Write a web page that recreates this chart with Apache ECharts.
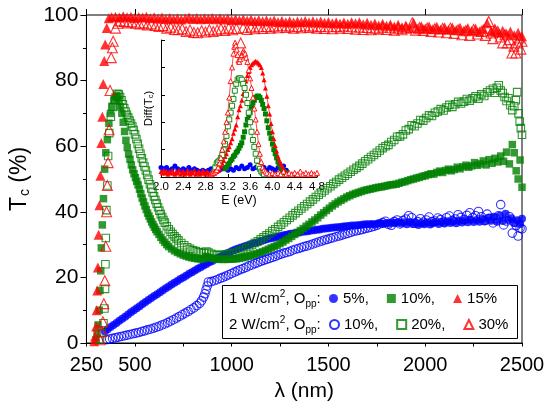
<!DOCTYPE html>
<html>
<head>
<meta charset="utf-8">
<script src="https://cdn.jsdelivr.net/npm/echarts@6/dist/echarts.min.js"></script>
<style>
  html, body { margin: 0; padding: 0; background: #fff; }
  #main { width: 550px; height: 411px; }
</style>
</head>
<body>
<div id="main"></div>
<script>
// main plot: [wavelength nm, Tc %]
const tc1W5 = [[345,3.5],[360,4.2],[375,4.9],[390,5.5],[405,6.1],[420,6.8],[435,7.4],[450,8.0],[465,8.7],[480,9.4],[495,10.0],[510,10.6],[525,11.2],[540,11.9],[555,12.5],[570,13.1],[585,13.7],[600,14.3],[615,14.9],[630,15.5],[645,16.1],[660,16.7],[675,17.2],[690,17.8],[705,18.4],[720,18.9],[735,19.5],[750,20.0],[765,20.5],[780,21.1],[795,21.6],[810,22.1],[825,22.6],[840,23.1],[855,23.6],[870,24.1],[885,24.6],[900,25.0],[915,25.5],[930,26.0],[945,26.4],[960,26.9],[975,27.3],[990,27.7],[1005,28.1],[1020,28.5],[1035,28.8],[1050,29.1],[1065,29.4],[1080,29.7],[1095,30.0],[1110,30.3],[1125,30.6],[1140,30.8],[1155,31.1],[1170,31.4],[1185,31.7],[1200,31.9],[1215,32.1],[1230,32.3],[1245,32.5],[1260,32.7],[1275,32.9],[1290,33.1],[1305,33.3],[1320,33.4],[1335,33.6],[1350,33.7],[1365,33.9],[1380,34.0],[1395,34.1],[1410,34.3],[1425,34.4],[1440,34.5],[1455,34.6],[1470,34.8],[1485,34.9],[1500,35.0],[1515,35.1],[1530,35.2],[1545,35.3],[1560,35.4],[1575,35.5],[1590,35.6],[1605,35.7],[1620,35.8],[1635,35.8],[1650,35.9],[1665,36.0],[1680,36.1],[1695,36.2],[1710,36.2],[1725,36.3],[1740,36.1],[1755,36.4],[1770,36.5],[1785,36.3],[1800,36.6],[1815,36.4],[1830,36.8],[1845,36.5],[1860,36.9],[1875,36.4],[1890,36.8],[1905,36.2],[1920,36.9],[1935,36.3],[1950,36.7],[1965,36.0],[1980,36.6],[1995,36.2],[2010,36.8],[2025,36.1],[2040,36.5],[2055,36.9],[2070,36.3],[2085,37.0],[2100,36.4],[2115,37.1],[2130,36.6],[2145,37.2],[2160,36.5],[2175,37.3],[2190,36.7],[2205,37.4],[2220,36.8],[2235,37.6],[2250,36.9],[2265,37.5],[2280,37.0],[2295,37.8],[2310,37.1],[2325,38.2],[2340,37.3],[2355,38.5],[2370,37.0],[2385,38.8],[2400,37.2],[2415,39.4],[2430,37.5],[2445,38.0],[2460,36.6],[2475,37.4],[2490,36.3],[2500,37.9]];

const tc1W10 = [[300,1],[305,3],[310,5.5],[316,10],[320,16],[324,22],[327,29],[332,36],[338,44],[344,53],[350,58],[358,62],[366,67],[374,70],[382,72],[392,74],[398,75],[405,75.5],[412,75.0],[419,73.8],[426,72.0],[433,70.0],[440,67.3],[447,64.5],[454,61.8],[461,59.6],[468,57.6],[475,56.0],[482,54.3],[489,52.8],[496,51.6],[503,50.4],[510,49.3],[517,48.2],[524,46.9],[531,45.5],[538,44.2],[545,43.0],[552,41.8],[559,40.7],[566,39.6],[573,38.7],[580,37.8],[587,36.9],[594,36.1],[601,35.3],[608,34.6],[615,33.9],[625,33.1],[635,32.2],[645,31.4],[655,30.7],[665,30.0],[675,29.4],[690,28.7],[705,28.1],[720,27.6],[735,27.2],[750,26.8],[765,26.5],[780,26.2],[795,26.0],[810,25.8],[825,25.7],[840,25.6],[855,25.7],[865,26.4],[875,26.2],[890,26.0],[905,25.8],[920,25.6],[935,25.5],[950,25.5],[965,25.5],[980,25.5],[995,25.6],[1010,25.6],[1025,25.7],[1040,25.8],[1055,26.0],[1070,26.2],[1085,26.4],[1100,26.6],[1115,26.9],[1130,27.2],[1145,27.5],[1160,27.8],[1175,28.2],[1190,28.6],[1205,29.0],[1220,29.4],[1235,29.8],[1250,30.3],[1265,30.8],[1280,31.4],[1295,31.9],[1310,32.5],[1325,33.1],[1340,33.7],[1355,34.3],[1370,34.9],[1385,35.6],[1400,36.2],[1415,36.9],[1430,37.5],[1445,38.2],[1460,39.0],[1475,39.7],[1490,40.4],[1505,41.1],[1520,41.8],[1535,42.4],[1550,43.0],[1565,43.5],[1580,44.0],[1595,44.5],[1610,44.9],[1625,45.3],[1640,45.6],[1655,45.9],[1670,46.2],[1685,46.5],[1700,46.7],[1715,46.9],[1730,47.1],[1745,47.3],[1760,47.5],[1775,47.6],[1790,47.8],[1805,48.0],[1820,48.2],[1835,48.3],[1850,48.4],[1865,48.7],[1880,49.0],[1895,49.2],[1910,49.5],[1925,49.8],[1940,50.0],[1955,50.3],[1970,50.5],[1985,50.8],[2000,51.0],[2015,51.3],[2030,51.6],[2045,51.5],[2060,52.0],[2075,52.4],[2090,52.0],[2105,52.6],[2120,53.0],[2135,52.5],[2150,52.9],[2165,53.6],[2180,53.1],[2195,53.7],[2210,54.2],[2225,53.6],[2240,54.0],[2255,55.0],[2270,54.2],[2285,54.6],[2300,55.5],[2315,54.3],[2330,55.9],[2345,54.8],[2360,56.3],[2375,55.2],[2390,57.0],[2405,55.4],[2420,58.2],[2435,54.6],[2450,60.5],[2460,58.0],[2470,52.5],[2480,50.0],[2490,55.8],[2500,47.5]];

const tc1W15 = [[290,0.5],[295,2],[300,5],[303,10],[306,16],[309,23],[313,33],[317,42],[322,51],[327,61],[332,69],[337,79],[342,86],[347,91],[355,96],[365,99],[380,99.3],[400,99.5],[420,99.2],[440,99.6],[460,99.3],[480,99.5],[500,99.1],[520,99.4],[540,99.2],[560,99.5],[580,99.0],[600,99.3],[620,98.9],[640,99.2],[660,98.8],[680,99.1],[700,98.7],[720,99.0],[740,98.6],[760,98.9],[780,99.2],[800,98.8],[820,99.1],[840,98.7],[860,99.0],[880,98.8],[900,99.1],[920,98.7],[940,99.0],[960,98.6],[980,98.9],[1000,98.5],[1020,98.8],[1040,98.4],[1060,98.7],[1080,98.3],[1100,98.6],[1120,98.2],[1140,98.5],[1160,98.1],[1180,98.4],[1200,98.0],[1220,98.3],[1240,97.9],[1260,98.2],[1280,97.8],[1300,98.1],[1320,97.7],[1340,98.0],[1360,97.9],[1380,98.2],[1400,97.8],[1420,98.1],[1440,97.7],[1460,98.0],[1480,97.6],[1500,97.9],[1520,97.5],[1540,97.8],[1560,97.4],[1580,97.7],[1600,97.3],[1620,97.8],[1640,97.5],[1660,97.8],[1680,97.2],[1700,97.6],[1720,97.0],[1740,97.4],[1760,96.8],[1780,97.3],[1800,96.7],[1820,97.1],[1840,96.5],[1860,97.0],[1880,96.3],[1900,96.8],[1920,96.0],[1940,97.6],[1960,95.8],[1980,96.6],[2000,95.9],[2020,96.5],[2040,95.7],[2060,96.4],[2080,95.6],[2100,96.3],[2120,95.5],[2140,96.2],[2160,95.4],[2180,96.1],[2200,95.3],[2220,96.0],[2240,95.2],[2260,95.9],[2280,95.0],[2300,95.8],[2320,97.5],[2340,95.0],[2360,95.6],[2380,94.6],[2400,95.2],[2420,94.3],[2440,95.0],[2460,93.8],[2480,94.6],[2500,93.5]];

const tc2W10 = [[355,1.0],[370,1.2],[385,1.4],[400,1.6],[415,1.8],[430,2.0],[445,2.2],[460,2.4],[475,2.6],[490,2.8],[505,3.0],[520,3.2],[535,3.5],[550,3.7],[565,4.0],[580,4.2],[595,4.5],[610,4.8],[625,5.1],[640,5.5],[655,5.8],[670,6.2],[685,6.7],[700,7.1],[715,7.6],[730,8.1],[745,8.6],[760,9.1],[775,9.6],[790,10.2],[805,10.7],[820,11.4],[835,12.1],[845,12.9],[855,14.0],[862,15.0],[868,16.2],[874,17.4],[880,18.6],[895,18.7],[910,19.0],[925,19.3],[940,19.7],[955,20.0],[970,20.4],[985,20.8],[1000,21.2],[1015,21.6],[1030,22.0],[1045,22.4],[1060,22.7],[1075,23.1],[1090,23.5],[1105,23.8],[1120,24.2],[1135,24.5],[1150,24.9],[1165,25.2],[1180,25.5],[1195,25.8],[1210,26.1],[1225,26.4],[1240,26.8],[1255,27.1],[1270,27.4],[1285,27.6],[1300,27.9],[1315,28.3],[1330,28.6],[1345,28.8],[1360,29.1],[1375,29.4],[1390,29.6],[1405,29.9],[1420,30.2],[1435,30.5],[1450,30.8],[1465,31.1],[1480,31.4],[1495,31.6],[1510,31.9],[1525,32.1],[1540,32.4],[1555,32.6],[1570,32.9],[1585,33.2],[1600,33.4],[1615,33.7],[1630,34.0],[1645,34.2],[1660,34.4],[1675,34.6],[1690,34.9],[1705,35.1],[1720,35.3],[1735,35.6],[1750,35.9],[1765,36.3],[1780,36.7],[1795,37.1],[1810,36.2],[1825,35.9],[1840,37.0],[1855,37.5],[1870,36.3],[1885,37.3],[1900,37.8],[1915,38.8],[1930,38.2],[1945,36.5],[1960,37.0],[1975,37.9],[1990,36.8],[2005,37.5],[2020,38.4],[2035,37.0],[2050,37.2],[2065,38.1],[2080,37.6],[2095,36.9],[2110,38.2],[2125,38.7],[2140,37.3],[2155,37.8],[2170,39.1],[2185,38.3],[2200,37.6],[2215,38.9],[2230,39.7],[2245,38.2],[2260,38.8],[2275,40.1],[2290,38.5],[2305,37.3],[2320,39.3],[2335,38.0],[2350,36.6],[2365,37.9],[2380,38.8],[2390,42.2],[2405,36.0],[2420,37.2],[2435,38.5],[2450,33.5],[2460,36.8],[2470,35.8],[2480,32.6],[2490,35.0],[2500,34.8]];

const tc2W20 = [[320,1],[330,3],[338,6],[343,10.5],[346,16.5],[348,24],[350,32],[353,40.5],[358,48],[362,57],[368,64],[376,69],[386,72],[398,74],[410,76],[417,75.8],[424,75.0],[431,74.0],[438,72.8],[445,71.6],[452,70.6],[459,69.6],[466,68.7],[473,67.8],[480,66.9],[487,66.0],[494,64.9],[501,63.6],[508,62.2],[515,60.7],[522,59.2],[529,57.7],[536,56.3],[543,55.0],[550,53.8],[557,52.6],[564,51.2],[571,49.8],[578,48.4],[585,47.1],[592,45.9],[599,44.7],[606,43.6],[613,42.5],[620,41.4],[627,40.3],[634,39.3],[641,38.4],[648,37.5],[655,36.7],[665,35.6],[675,34.7],[685,33.9],[695,33.2],[705,32.5],[715,31.9],[725,31.3],[740,30.5],[755,29.8],[770,29.2],[785,28.7],[800,28.3],[815,28.0],[830,27.7],[845,27.5],[860,27.4],[870,27.9],[880,27.6],[895,27.2],[910,26.9],[925,26.8],[940,26.8],[955,26.9],[970,27.0],[985,27.1],[1000,27.3],[1015,27.5],[1030,27.8],[1045,28.1],[1060,28.5],[1075,28.9],[1090,29.4],[1105,29.9],[1120,30.5],[1135,31.0],[1150,31.6],[1165,32.2],[1180,32.8],[1195,33.4],[1210,34.1],[1225,34.7],[1240,35.4],[1255,36.1],[1270,36.8],[1285,37.5],[1300,38.2],[1315,38.9],[1330,39.6],[1345,40.3],[1360,41.0],[1375,41.7],[1390,42.4],[1405,43.1],[1420,43.8],[1435,44.5],[1450,45.2],[1465,45.9],[1480,46.5],[1495,47.2],[1510,47.8],[1525,48.5],[1540,49.1],[1555,49.8],[1570,50.4],[1585,51.0],[1600,51.6],[1615,52.2],[1630,52.8],[1645,53.4],[1660,54.0],[1675,54.7],[1690,55.4],[1705,56.0],[1720,56.7],[1735,57.3],[1750,58.0],[1765,58.7],[1780,59.4],[1795,60.0],[1810,60.4],[1825,61.3],[1840,61.9],[1855,62.9],[1870,63.0],[1885,63.6],[1900,64.8],[1915,65.2],[1930,66.4],[1945,66.1],[1960,66.9],[1975,68.0],[1990,67.8],[2005,68.6],[2020,69.4],[2035,69.2],[2050,70.2],[2065,70.6],[2080,71.3],[2095,70.9],[2110,71.8],[2125,72.6],[2140,72.0],[2155,72.8],[2170,73.5],[2185,73.0],[2200,73.6],[2215,74.4],[2230,73.9],[2245,74.6],[2260,75.2],[2275,74.5],[2290,75.8],[2305,75.3],[2320,76.4],[2335,77.0],[2350,77.5],[2360,76.3],[2370,77.8],[2380,78.6],[2390,77.0],[2400,76.2],[2410,75.0],[2420,73.8],[2430,74.6],[2440,72.5],[2450,71.0],[2460,72.2],[2468,74.0],[2475,76.5],[2482,70.0],[2488,67.5],[2494,65.5],[2500,63.5]];

const tc2W30 = [[320,1],[330,3.5],[335,6.5],[340,12],[345,19],[350,29.5],[354,40],[358,48],[362,55],[367,65],[372,77],[378,87],[384,90],[388,92],[400,96],[412,97.5],[425,98.2],[445,98.0],[465,97.6],[485,97.9],[505,97.5],[525,97.3],[545,97.6],[565,97.0],[585,97.3],[605,96.8],[625,96.5],[645,96.8],[665,96.0],[685,96.3],[705,95.6],[725,95.5],[745,95.8],[765,95.0],[785,95.4],[805,94.7],[825,94.6],[845,95.2],[865,94.8],[885,95.5],[905,95.0],[925,95.4],[945,95.8],[965,95.3],[985,96.0],[1005,95.5],[1025,95.9],[1047,91.5],[1060,96.1],[1080,95.6],[1100,96.3],[1120,95.8],[1140,96.4],[1160,95.9],[1180,96.5],[1200,96.0],[1220,96.6],[1240,96.1],[1260,96.7],[1280,96.2],[1300,96.6],[1320,96.0],[1340,96.5],[1360,96.1],[1380,96.7],[1400,96.2],[1420,96.6],[1440,96.0],[1460,96.5],[1480,95.9],[1500,96.4],[1520,95.8],[1540,96.5],[1560,96.0],[1580,96.6],[1600,95.9],[1620,96.4],[1640,95.7],[1660,96.3],[1680,95.6],[1700,96.2],[1720,95.5],[1740,96.0],[1760,95.7],[1780,96.3],[1800,95.6],[1820,96.1],[1840,95.4],[1860,96.0],[1880,95.5],[1900,96.0],[1933,97.6],[1950,95.4],[1970,96.1],[1990,95.3],[2010,96.0],[2030,95.0],[2050,95.8],[2070,94.8],[2090,95.9],[2110,94.6],[2130,96.0],[2150,94.4],[2170,95.5],[2190,94.0],[2210,95.2],[2230,93.8],[2250,95.6],[2270,94.2],[2290,95.0],[2310,93.8],[2328,98.0],[2340,94.5],[2350,92.8],[2360,95.6],[2375,95.0],[2388,93.3],[2400,91.5],[2412,94.0],[2424,91.5],[2436,92.5],[2448,88.4],[2458,90.5],[2468,88.4],[2478,91.5],[2486,93.0],[2494,89.6],[2500,92.0]];

// inset: [E eV, Diff(Tc)]
const diff1W5 = [[2.00,0.07],[2.05,0.06],[2.10,0.07],[2.15,0.05],[2.20,0.06],[2.25,0.08],[2.30,0.06],[2.35,0.05],[2.40,0.06],[2.45,0.05],[2.50,0.07],[2.55,0.05],[2.60,0.06],[2.65,0.05],[2.70,0.04],[2.75,0.05],[2.80,0.04],[2.85,0.05],[2.90,0.06],[2.95,0.05],[3.00,0.06],[3.05,0.05],[3.10,0.06],[3.15,0.07],[3.20,0.05],[3.25,0.06],[3.30,0.05],[3.35,0.07],[3.40,0.06],[3.45,0.08],[3.50,0.06],[3.55,0.07],[3.60,0.09],[3.65,0.06],[3.70,0.07],[3.75,0.08],[3.80,0.06],[3.85,0.07],[3.90,0.05],[3.95,0.07],[4.00,0.06],[4.05,0.05],[4.10,0.07],[4.15,0.06],[4.20,0.08],[4.25,0.05]];
const diff1W10 = [[3.15,0.06],[3.175,0.07],[3.20,0.09],[3.225,0.10],[3.25,0.12],[3.275,0.13],[3.30,0.15],[3.325,0.16],[3.35,0.18],[3.375,0.19],[3.40,0.21],[3.425,0.23],[3.45,0.25],[3.475,0.29],[3.50,0.33],[3.525,0.38],[3.55,0.42],[3.575,0.45],[3.60,0.47],[3.625,0.51],[3.65,0.54],[3.675,0.56],[3.70,0.58],[3.725,0.59],[3.75,0.59],[3.775,0.58],[3.80,0.56],[3.825,0.53],[3.85,0.50],[3.875,0.46],[3.90,0.41],[3.925,0.36],[3.95,0.32],[3.975,0.28],[4.00,0.24],[4.025,0.20],[4.05,0.17],[4.075,0.14],[4.10,0.11],[4.125,0.09],[4.15,0.07],[4.175,0.05],[4.20,0.04],[4.225,0.03],[4.25,0.03]];
const diff1W15 = [[2.000,0.04],[2.025,0.03],[2.05,0.05],[2.075,0.03],[2.10,0.04],[2.125,0.02],[2.15,0.04],[2.175,0.03],[2.20,0.05],[2.225,0.03],[2.25,0.02],[2.275,0.04],[2.30,0.03],[2.325,0.05],[2.35,0.02],[2.375,0.03],[2.40,0.04],[2.425,0.02],[2.45,0.03],[2.475,0.05],[2.50,0.03],[2.525,0.02],[2.55,0.04],[2.575,0.03],[2.60,0.05],[2.625,0.02],[2.65,0.03],[2.675,0.04],[2.70,0.02],[2.725,0.03],[2.75,0.05],[2.775,0.03],[2.80,0.02],[2.825,0.04],[2.85,0.03],[2.875,0.02],[2.90,0.03],[2.925,0.02],[2.95,0.03],[2.975,0.04],[3.00,0.04],[3.025,0.05],[3.05,0.06],[3.075,0.08],[3.10,0.10],[3.125,0.12],[3.15,0.15],[3.175,0.17],[3.20,0.20],[3.225,0.22],[3.25,0.25],[3.275,0.28],[3.30,0.32],[3.325,0.35],[3.35,0.38],[3.375,0.44],[3.40,0.49],[3.425,0.52],[3.45,0.56],[3.475,0.61],[3.50,0.66],[3.525,0.70],[3.55,0.74],[3.575,0.77],[3.60,0.80],[3.625,0.82],[3.65,0.83],[3.675,0.84],[3.70,0.845],[3.725,0.84],[3.75,0.83],[3.775,0.82],[3.80,0.80],[3.825,0.76],[3.85,0.71],[3.875,0.65],[3.90,0.59],[3.925,0.52],[3.95,0.46],[3.975,0.39],[4.00,0.33],[4.025,0.28],[4.05,0.23],[4.075,0.19],[4.10,0.15],[4.125,0.12],[4.15,0.10],[4.175,0.08],[4.20,0.06],[4.225,0.04],[4.25,0.03]];
const diff2W20 = [[2.95,0.04],[2.975,0.07],[3.00,0.10],[3.025,0.11],[3.05,0.12],[3.075,0.14],[3.10,0.16],[3.125,0.20],[3.15,0.24],[3.175,0.30],[3.20,0.37],[3.225,0.42],[3.25,0.47],[3.275,0.52],[3.30,0.57],[3.325,0.63],[3.35,0.68],[3.375,0.71],[3.40,0.72],[3.425,0.72],[3.45,0.71],[3.475,0.68],[3.50,0.65],[3.525,0.60],[3.55,0.54],[3.575,0.47],[3.60,0.40],[3.625,0.33],[3.65,0.27],[3.675,0.22],[3.70,0.17],[3.725,0.12],[3.75,0.08],[3.775,0.06],[3.80,0.04],[3.825,0.03],[3.85,0.02]];
const diff2W30 = [[2.90,0.02],[2.925,0.03],[2.95,0.03],[2.975,0.04],[3.00,0.05],[3.025,0.07],[3.05,0.10],[3.075,0.14],[3.10,0.20],[3.125,0.26],[3.15,0.33],[3.175,0.40],[3.20,0.47],[3.225,0.58],[3.25,0.70],[3.275,0.80],[3.30,0.90],[3.315,0.95],[3.33,0.98],[3.345,0.96],[3.36,0.93],[3.375,0.89],[3.39,0.85],[3.405,0.84],[3.42,0.86],[3.435,0.88],[3.45,0.89],[3.465,0.91],[3.48,0.92],[3.495,0.91],[3.51,0.90],[3.53,0.87],[3.55,0.84],[3.575,0.78],[3.60,0.72],[3.625,0.65],[3.65,0.58],[3.675,0.50],[3.70,0.42],[3.725,0.33],[3.75,0.24],[3.775,0.17],[3.80,0.11],[3.825,0.07],[3.85,0.05],[3.875,0.04],[3.90,0.03],[3.95,0.02],[4.00,0.03],[4.05,0.02],[4.10,0.03],[4.15,0.02],[4.20,0.04],[4.25,0.02],[4.30,0.03],[4.35,0.02],[4.40,0.03],[4.45,0.02],[4.50,0.04],[4.55,0.02],[4.60,0.03],[4.65,0.02],[4.70,0.03],[4.75,0.02],[4.80,0.03]];

const xTickLabels = [250, 500, 1000, 1500, 2000, 2500];
const legendNames = ['1W 5', '1W 10', '1W 15', '2W 10', '2W 20', '2W 30'];
const legendTexts = ['5%,', '10%,', '15%', '10%,', '20%,', '30%'];

const FONT = 'Liberation Sans, Arial, sans-serif';
const BLUE = '#0000ff', GREEN = '#008000', RED = '#ff0000';

const chart = echarts.init(document.getElementById('main'));

function filled(color) { return { color: color }; }
function open(color) { return { color: 'rgba(255,255,255,0)', borderColor: color, borderWidth: 1.1 }; }

const mainSeries = [
  { name: legendNames[0], data: tc1W5, symbol: 'circle', symbolSize: 8, itemStyle: filled(BLUE) },
  { name: legendNames[1], data: tc1W10, symbol: 'rect', symbolSize: 7.5, itemStyle: filled(GREEN) },
  { name: legendNames[2], data: tc1W15, symbol: 'triangle', symbolSize: 10, itemStyle: filled(RED) },
  { name: legendNames[3], data: tc2W10, symbol: 'circle', symbolSize: 8.5, itemStyle: open(BLUE) },
  { name: legendNames[4], data: tc2W20, symbol: 'rect', symbolSize: 7.5, itemStyle: open(GREEN) },
  { name: legendNames[5], data: tc2W30, symbol: 'triangle', symbolSize: 10, itemStyle: open(RED) }
].map(s => Object.assign({ type: 'scatter', xAxisIndex: 0, yAxisIndex: 0 }, s));

function insetLine(name, data, symbol, color, isOpen) {
  return {
    type: 'line', name: name, data: data, xAxisIndex: 2, yAxisIndex: 1,
    symbol: symbol, symbolSize: 5, showAllSymbol: true,
    lineStyle: { color: color, width: 0.7 },
    itemStyle: isOpen ? { color: '#fff', borderColor: color, borderWidth: 0.9 } : { color: color }
  };
}

const insetSeries = [
  insetLine('i5', diff1W5, 'circle', BLUE, false),
  insetLine('i10', diff1W10, 'rect', GREEN, false),
  insetLine('i15', diff1W15, 'triangle', RED, false),
  insetLine('i20', diff2W20, 'rect', GREEN, true),
  insetLine('i30', diff2W30, 'triangle', RED, true)
];

const legendBase = {
  orient: 'horizontal', itemWidth: 9, itemHeight: 9, itemGap: 18, padding: 0, z: 6,
  selectedMode: false,
  textStyle: { fontFamily: FONT, fontSize: 15, color: '#000' },
  formatter: name => legendTexts[legendNames.indexOf(name)]
};

const supRich = {
  a: { fontFamily: FONT, fontSize: 15, fill: '#000', lineHeight: 20 },
  sup: { fontFamily: FONT, fontSize: 10, fill: '#000', lineHeight: 20, verticalAlign: 'top', padding: [0, 0, 9, 0] },
  sub: { fontFamily: FONT, fontSize: 10, fill: '#000', lineHeight: 20, verticalAlign: 'bottom', padding: [9, 0, 0, 0] }
};

const option = {
  animation: false,
  backgroundColor: '#fff',
  textStyle: { fontFamily: FONT },
  grid: [
    { left: 78, top: 15, width: 444, height: 328, show: true, borderColor: '#000', borderWidth: 1, backgroundColor: 'transparent' },
    { left: 161, top: 40, width: 156, height: 137 }
  ],
  xAxis: [
    {
      gridIndex: 0, type: 'value', min: 250, max: 2500, interval: 250,
      name: 'λ (nm)', nameLocation: 'middle', nameGap: 38,
      nameTextStyle: { fontFamily: FONT, fontSize: 21, color: '#000' },
      axisLine: { lineStyle: { color: '#000', width: 1 } },
      axisTick: { show: true, length: 3.5, lineStyle: { color: '#000' } },
      axisLabel: { customValues: xTickLabels, fontFamily: FONT, fontSize: 20, color: '#000', margin: 12, formatter: v => String(v) },
      splitLine: { show: false }
    },
    {
      gridIndex: 0, type: 'value', min: 250, max: 2500, interval: 250,
      axisLine: { show: false },
      axisTick: { show: true, customValues: xTickLabels, length: 6, lineStyle: { color: '#000' } },
      axisLabel: { show: false },
      splitLine: { show: false }
    },
    {
      gridIndex: 1, type: 'value', min: 2.0, max: 4.8, interval: 0.4,
      name: 'E (eV)', nameLocation: 'middle', nameGap: 17,
      nameTextStyle: { fontFamily: FONT, fontSize: 12.5, color: '#000' },
      axisLine: { lineStyle: { color: '#000', width: 1 } },
      axisTick: { show: true, inside: true, length: 3, lineStyle: { color: '#000' } },
      axisLabel: { fontFamily: FONT, fontSize: 11.5, color: '#000', margin: 4, formatter: v => v.toFixed(1) },
      splitLine: { show: false }
    }
  ],
  yAxis: [
    {
      gridIndex: 0, type: 'value', min: 0, max: 100, interval: 20,
      name: '{a|T}{b|c}{a| (%)}', nameLocation: 'middle', nameGap: 48, nameRotate: 90,
      nameTextStyle: {
        color: '#000',
        rich: {
          a: { fontFamily: FONT, fontSize: 23, color: '#000', lineHeight: 26 },
          b: { fontFamily: FONT, fontSize: 14, color: '#000', lineHeight: 26, verticalAlign: 'bottom', padding: [10, 0, 0, 1] }
        }
      },
      axisLine: { show: true, lineStyle: { color: '#000', width: 1 } },
      axisTick: { show: true, length: 6, lineStyle: { color: '#000' } },
      minorTick: { show: true, splitNumber: 2, length: 3.5, lineStyle: { color: '#000' } },
      axisLabel: { fontFamily: FONT, fontSize: 21, color: '#000', margin: 8 },
      splitLine: { show: false }
    },
    {
      gridIndex: 1, type: 'value', min: 0, max: 1, interval: 0.2,
      name: '{a|Diff(T}{b|c}{a|)}', nameLocation: 'middle', nameGap: 6, nameRotate: 90,
      nameTextStyle: {
        color: '#000',
        rich: {
          a: { fontFamily: FONT, fontSize: 11.5, color: '#000', lineHeight: 13 },
          b: { fontFamily: FONT, fontSize: 7.5, color: '#000', lineHeight: 13, verticalAlign: 'bottom', padding: [4, 0, 0, 0] }
        }
      },
      axisLine: { show: true, lineStyle: { color: '#000', width: 1 } },
      axisTick: { show: true, inside: true, length: 4, lineStyle: { color: '#000' } },
      axisLabel: { show: false },
      splitLine: { show: false }
    }
  ],
  legend: [
    Object.assign({ left: 329, top: 291, data: legendNames.slice(0, 3) }, legendBase),
    Object.assign({ left: 329, top: 317, data: legendNames.slice(3, 6) }, legendBase)
  ],
  graphic: [
    { type: 'rect', z: 3, shape: { x: 222.5, y: 285.5, width: 295, height: 53 }, style: { fill: '#fff', stroke: '#000', lineWidth: 1 } },
    { type: 'text', z: 6, left: 229, top: 289, style: { text: '{a|1 W/cm}{sup|2}{a|, O}{sub|pp}{a|:}', rich: supRich } },
    { type: 'text', z: 6, left: 229, top: 315, style: { text: '{a|2 W/cm}{sup|2}{a|, O}{sub|pp}{a|:}', rich: supRich } }
  ],
  series: mainSeries.concat(insetSeries)
};

chart.setOption(option);
</script>
</body>
</html>
